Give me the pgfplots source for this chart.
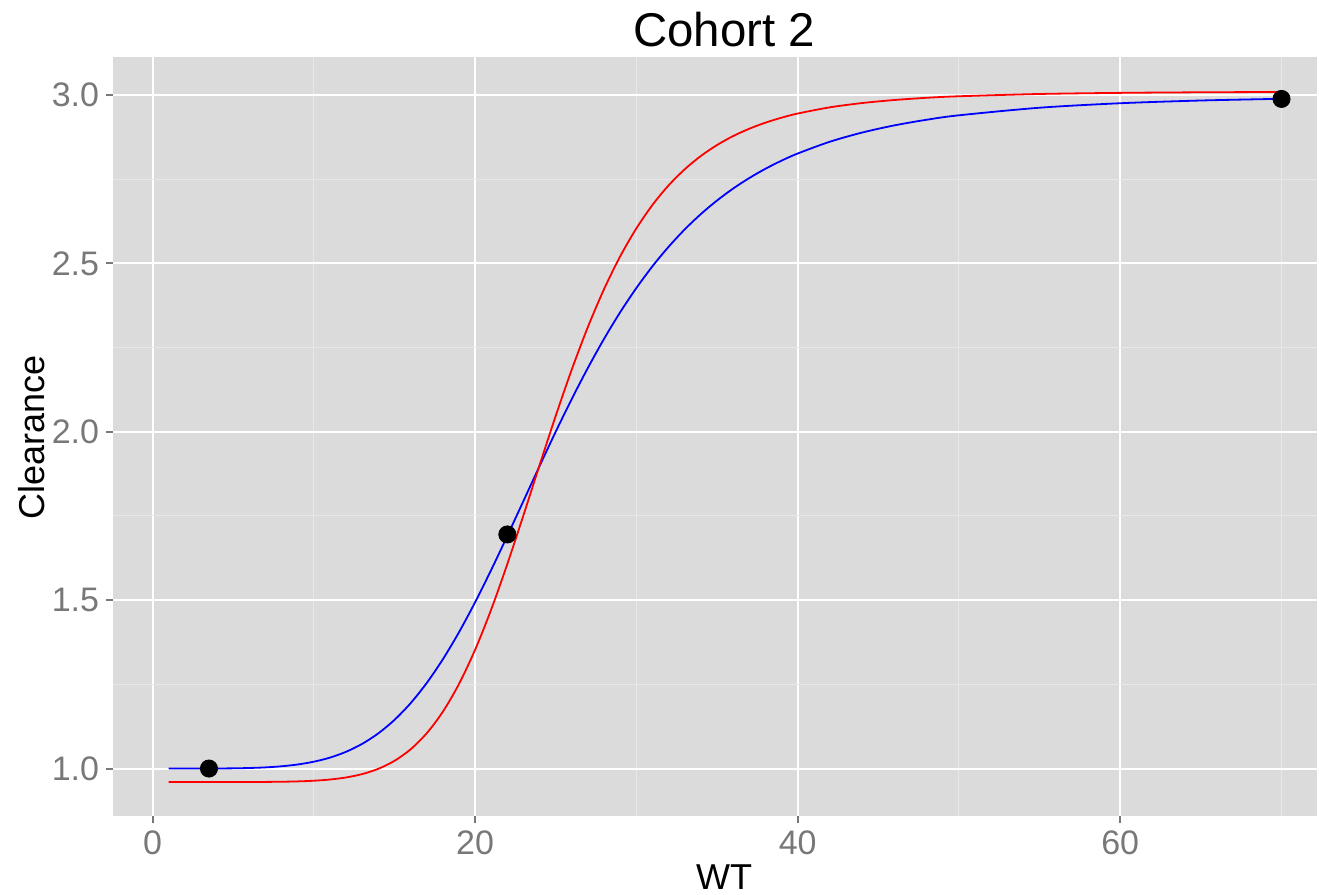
\documentclass[border=0pt]{standalone}
\usepackage{pgfplots}
\pgfplotsset{compat=1.18}
\usepackage{fontspec}
\setmainfont{Liberation Sans}
\definecolor{panelbg}{RGB}{219,219,219}
\definecolor{minorgrid}{RGB}{232,232,232}
\definecolor{ticktxt}{RGB}{120,120,120}
\definecolor{curveblue}{RGB}{0,0,255}
\definecolor{curvered}{RGB}{255,0,0}
\begin{document}
\begin{tikzpicture}
\useasboundingbox (-56.5pt,-39.25pt) rectangle (603pt,408.25pt);
\begin{axis}[
  scale only axis,
  width=602pt, height=379.5pt,
  xmin=-2.45, xmax=72.2,
  ymin=0.8576, ymax=3.111,
  axis background/.style={fill=panelbg},
  axis line style={draw=none},
  xtick={0,20,40,60}, ytick={1.0,1.5,2.0,2.5,3.0},
  minor xtick={10,30,50,70}, minor ytick={1.25,1.75,2.25,2.75},
  grid=both,
  major grid style={white, line width=1pt},
  minor grid style={minorgrid, line width=0.5pt},
  tick pos=left,
  tick align=outside,
  major tick length=3.25pt,
  minor tick length=0pt,
  major tick style={ticktxt, line width=1pt},
  /pgf/number format/assume math mode=true,
  yticklabel={\pgfmathprintnumber[fixed, fixed zerofill, precision=1]{\tick}},
  ticklabel style={font=\fontsize{17}{17}\selectfont, text=ticktxt, inner sep=0pt},
  yticklabel style={anchor=east, xshift=-3.5pt},
  xticklabel style={anchor=north, yshift=-3.5pt},
]
\addplot[curveblue, line width=0.9pt, smooth] coordinates {
(1,1.0000) (2,1.0000) (3,1.0000) (4,1.0002) (5,1.0006) (6,1.0016) (7,1.0034) (8,1.0067)
(9,1.0120) (10,1.0203) (11,1.0324) (12,1.0497) (13,1.0733) (14,1.1044) (15,1.1443)
(16,1.1939) (17,1.2539) (18,1.3242) (19,1.4045) (20,1.4936) (21,1.5898) (22,1.6909)
(23,1.7945) (24,1.8983) (25,2.0000) (26,2.0977) (27,2.1900) (28,2.2760) (29,2.3550)
(30,2.4266) (31,2.4914) (32,2.5491) (33,2.6006) (34,2.6462) (35,2.6864) (36,2.7219)
(37,2.7531) (38,2.7806) (39,2.8047) (40,2.8259) (42,2.8610) (44,2.8882) (46,2.9095)
(48,2.9262) (50,2.9394) (55,2.9619) (60,2.9752) (65,2.9833) (70,2.9884)
};
\addplot[curvered, line width=0.9pt, smooth] coordinates {
(1,0.9600) (2,0.9600) (3,0.9600) (4,0.9600) (5,0.9600) (6,0.9601) (7,0.9603) (8,0.9608)
(9,0.9618) (10,0.9638) (11,0.9674) (12,0.9735) (13,0.9835) (14,0.9992) (15,1.0228)
(16,1.0570) (17,1.1047) (18,1.1686) (19,1.2509) (20,1.3525) (21,1.4723) (22,1.6073)
(23,1.7522) (24,1.9010) (25,2.0471) (26,2.1853) (27,2.3116) (28,2.4237) (29,2.5209)
(30,2.6037) (31,2.6734) (32,2.7314) (33,2.7792) (34,2.8187) (35,2.8511) (36,2.8778)
(37,2.8995) (38,2.9175) (39,2.9323) (40,2.9446) (42,2.9631) (44,2.9758) (46,2.9848)
(48,2.9914) (50,2.9959) (55,3.0027) (60,3.0060) (65,3.0077) (70,3.0086)
};
\addplot[only marks, mark=*, mark size=4.3pt, black] coordinates {
(3.5,1.000) (22,1.695) (70,2.988)
};
\end{axis}
\node[anchor=base, font=\fontsize{23.7}{24}\selectfont] at (305.5pt,384.9pt) {Cohort 2};
\node[anchor=base, font=\fontsize{18}{18}\selectfont] at (305.5pt,-36.25pt) {WT};
\node[anchor=base, rotate=90, font=\fontsize{18}{18}\selectfont] at (-34pt,189.75pt) {Clearance};
\end{tikzpicture}
\end{document}
